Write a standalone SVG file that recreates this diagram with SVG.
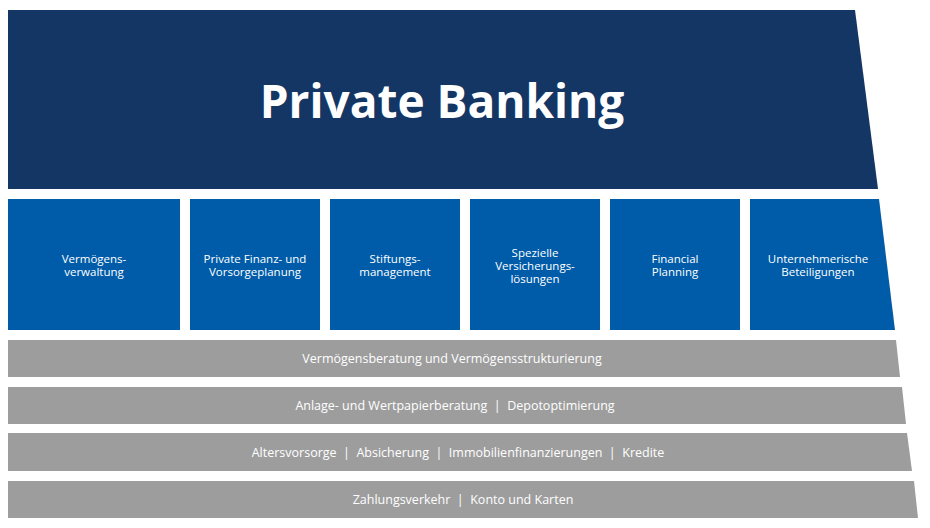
<svg xmlns="http://www.w3.org/2000/svg" width="930" height="528" viewBox="0 0 930 528">
<style>
.b{fill:#005ca8}.g{fill:#9d9d9d}
.t{font-family:"Open Sans","Liberation Sans",sans-serif;fill:#fff;font-size:11.5px;text-anchor:middle}
.gt{font-family:"Open Sans","Liberation Sans",sans-serif;fill:#fff;font-size:12.5px;text-anchor:middle;white-space:pre}
</style>
<rect width="930" height="528" fill="#fff"/>
<g id="top"><polygon points="8,10 855,10 878,189 8,189" fill="#143665"/>
<text x="442" y="118" font-family="'Open Sans','Liberation Sans',sans-serif" font-size="46" font-weight="700" fill="#fff" text-anchor="middle">Private Banking</text></g>
<g id="b1"><rect class="b" x="8" y="199" width="172" height="131"/><text class="t" x="94" y="262.5">Vermögens-</text><text class="t" x="94" y="275.5">verwaltung</text></g>
<g id="b2"><rect class="b" x="190" y="199" width="130" height="131"/><text class="t" x="255" y="262.5">Private Finanz- und</text><text class="t" x="255" y="275.5">Vorsorgeplanung</text></g>
<g id="b3"><rect class="b" x="330" y="199" width="130" height="131"/><text class="t" x="395" y="262.5">Stiftungs-</text><text class="t" x="395" y="275.5">management</text></g>
<g id="b4"><rect class="b" x="470" y="199" width="130" height="131"/><text class="t" x="535" y="257">Spezielle</text><text class="t" x="535" y="270">Versicherungs-</text><text class="t" x="535" y="283">lösungen</text></g>
<g id="b5"><rect class="b" x="610" y="199" width="130" height="131"/><text class="t" x="675" y="262.5">Financial</text><text class="t" x="675" y="275.5">Planning</text></g>
<g id="b6"><polygon class="b" points="750,199 879,199 895,330 750,330"/><text class="t" x="818" y="262.5">Unternehmerische</text><text class="t" x="818" y="275.5">Beteiligungen</text></g>
<g id="g1"><polygon class="g" points="8,340 896,340 900,377 8,377"/><text class="gt" x="452" y="363">Vermögensberatung und Vermögensstrukturierung</text></g>
<g id="g2"><polygon class="g" points="8,387 902,387 906,424 8,424"/><text class="gt" x="455" y="410" xml:space="preserve">Anlage- und Wertpapierberatung  |  Depotoptimierung</text></g>
<g id="g3"><polygon class="g" points="8,433 907,433 912,471 8,471"/><text class="gt" x="458" y="457" xml:space="preserve">Altersvorsorge  |  Absicherung  |  Immobilienfinanzierungen  |  Kredite</text></g>
<g id="g4"><polygon class="g" points="8,481 914,481 918,518 8,518"/><text class="gt" x="463" y="504" xml:space="preserve">Zahlungsverkehr  |  Konto und Karten</text></g>
<g id="connectors"/>
</svg>
